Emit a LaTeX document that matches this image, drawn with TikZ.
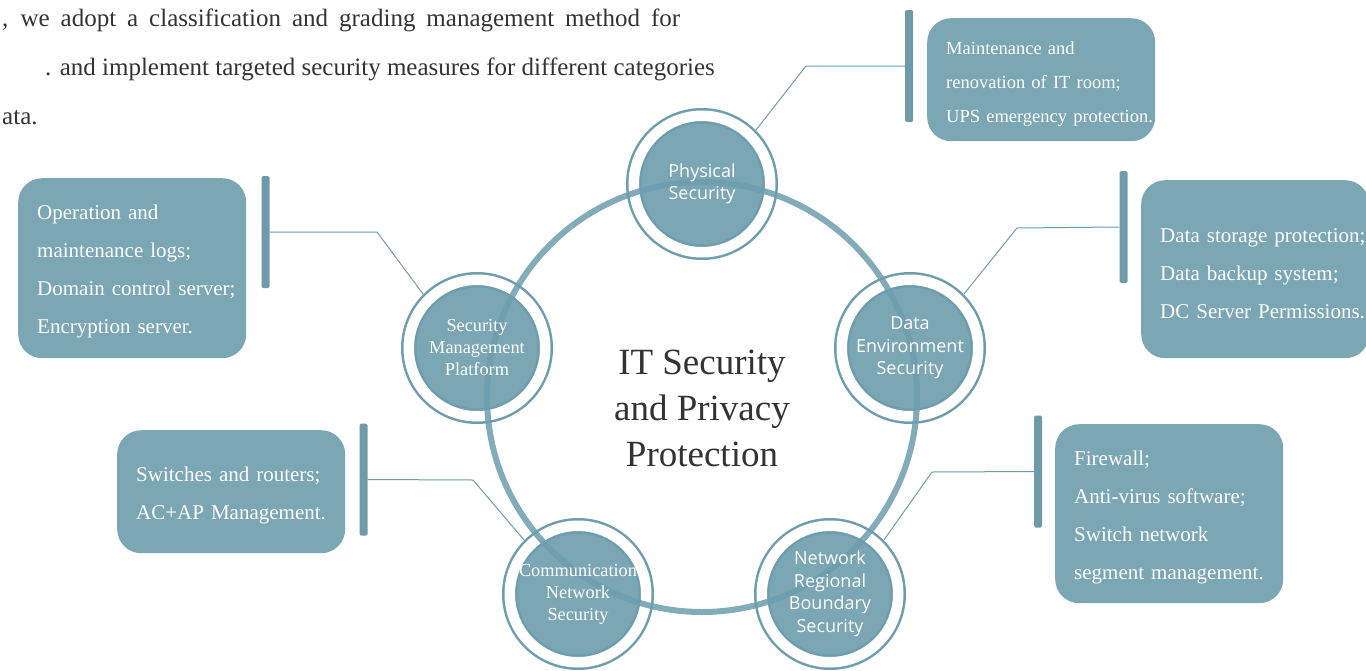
\documentclass[tikz,border=0pt]{standalone}
\usepackage{fontspec}
\setmainfont{Liberation Serif}
\newfontfamily\labelsans{Open Sans}
\usepackage{xcolor}
\usepackage{tikz}

\definecolor{tealfill}{HTML}{7BA6B4}
\definecolor{tealbar}{HTML}{6E9AAA}
\definecolor{tealline}{HTML}{6D9DAE}
\definecolor{bodytext}{HTML}{333333}

\tikzset{
  satellite/.style={circle, fill=tealfill, draw=tealline, line width=2.5pt, double=white,
    double distance=10.5pt, minimum size=136.5pt, inner sep=0pt, outer sep=7.75pt},
  satlabel/.style={align=center, text=white, inner sep=0pt},
  infobox/.style={rectangle, rounded corners=24pt, fill=tealfill, minimum width=228pt,
    text width=190pt, inner xsep=19pt, align=left, text=white, anchor=north west,
    execute at begin node={\rule{0pt}{22pt}}},
  infobar/.style={rectangle, rounded corners=1.5pt, fill=tealbar, minimum width=8pt,
    minimum height=112pt, inner sep=0pt},
  link/.style={draw=tealline, line width=1pt},
  bigring/.style={draw=tealline, line width=6pt, opacity=0.85},
  sanslabel/.style={font=\labelsans\fontsize{18}{22.5}\selectfont},
  seriflabel/.style={font=\fontsize{18.3}{22}\selectfont},
  boxtext/.style={font=\fontsize{21}{38}\selectfont},
  paratext/.style={anchor=base west, inner sep=0pt, text=bodytext, font=\fontsize{25}{30}\selectfont},
}

\begin{document}
\begin{tikzpicture}[x=1pt, y=-1pt]
\useasboundingbox (0,0) rectangle (1366,670);

% ===== paragraph at top left =====
\node[paratext] (para1) at (2,26)
  {\makebox[678pt][s]{, we adopt a classification and grading management method for}};
\node[paratext] (para2) at (45,75)
  {. and implement targeted security measures for different categories};
\node[paratext] (para3) at (2,124) {ata.};

% ===== the five circles =====
\node[satellite] (phys) at (702,184) {};
\node[satellite] (data) at (910,348) {};
\node[satellite] (net)  at (830,594) {};
\node[satellite] (comm) at (578,594) {};
\node[satellite] (mgmt) at (477,348) {};

% ===== big ring =====
\coordinate (ringc) at (702,397);
\draw[bigring] (ringc) circle[radius=215pt];

% ===== circle labels =====
\node[satlabel, sanslabel]  (physlbl) at (phys) {Physical\\Security};
\node[satlabel, sanslabel]  (datalbl) at (data) {Data\\Environment\\Security};
\node[satlabel, sanslabel]  (netlbl)  at (net)  {Network\\Regional\\Boundary\\Security};
\node[satlabel, seriflabel] (commlbl) at (comm) {Communication\\Network\\Security};
\node[satlabel, seriflabel] (mgmtlbl) at (mgmt) {Security\\Management\\Platform};

% ===== centre title =====
\node[align=center, text=bodytext, font=\fontsize{37}{46}\selectfont] (title) at (702,408)
  {IT Security\\and Privacy\\Protection};

% ===== bars =====
\node[infobar] (physbar) at (909,66) {};
\node[infobar] (databar) at (1123.5,227) {};
\node[infobar] (netbar)  at (1038,471.5) {};
\node[infobar] (commbar) at (363.5,479.5) {};
\node[infobar] (mgmtbar) at (265.5,232) {};

% ===== boxes =====
\node[infobox, minimum height=123pt, font=\fontsize{18.5}{34}\selectfont] (physbox) at (927,18)
  {\mbox{Maintenance and}\\\mbox{renovation of IT room;}\\\mbox{UPS emergency protection.}};
\node[infobox, minimum height=178pt, boxtext] (databox) at (1141,180)
  {\mbox{Data storage protection;}\\\mbox{Data backup system;}\\\mbox{DC Server Permissions.}};
\node[infobox, minimum height=179pt, boxtext] (netbox) at (1055,424)
  {\mbox{Firewall;}\\\mbox{Anti-virus software;}\\\mbox{Switch network}\\\mbox{segment management.}};
\node[infobox, minimum height=123pt, boxtext] (commbox) at (117,430)
  {\mbox{Switches and routers;}\\\mbox{AC+AP Management.}};
\node[infobox, minimum height=180pt, boxtext] (mgmtbox) at (18,178)
  {\mbox{Operation and}\\\mbox{maintenance logs;}\\\mbox{Domain control server;}\\\mbox{Encryption server.}};

% ===== connectors =====
\draw[link] (phys.45)  -- (806,66)   -- (physbar.west);
\draw[link] (data.45)  -- (1017,228) -- (databar.west);
\draw[link] (net.45)   -- (932,472)  -- (netbar.west);
\draw[link] (comm.135) -- (473,480)  -- (commbar.east);
\draw[link] (mgmt.135) -- (377,232)  -- (mgmtbar.east);
\end{tikzpicture}
\end{document}
